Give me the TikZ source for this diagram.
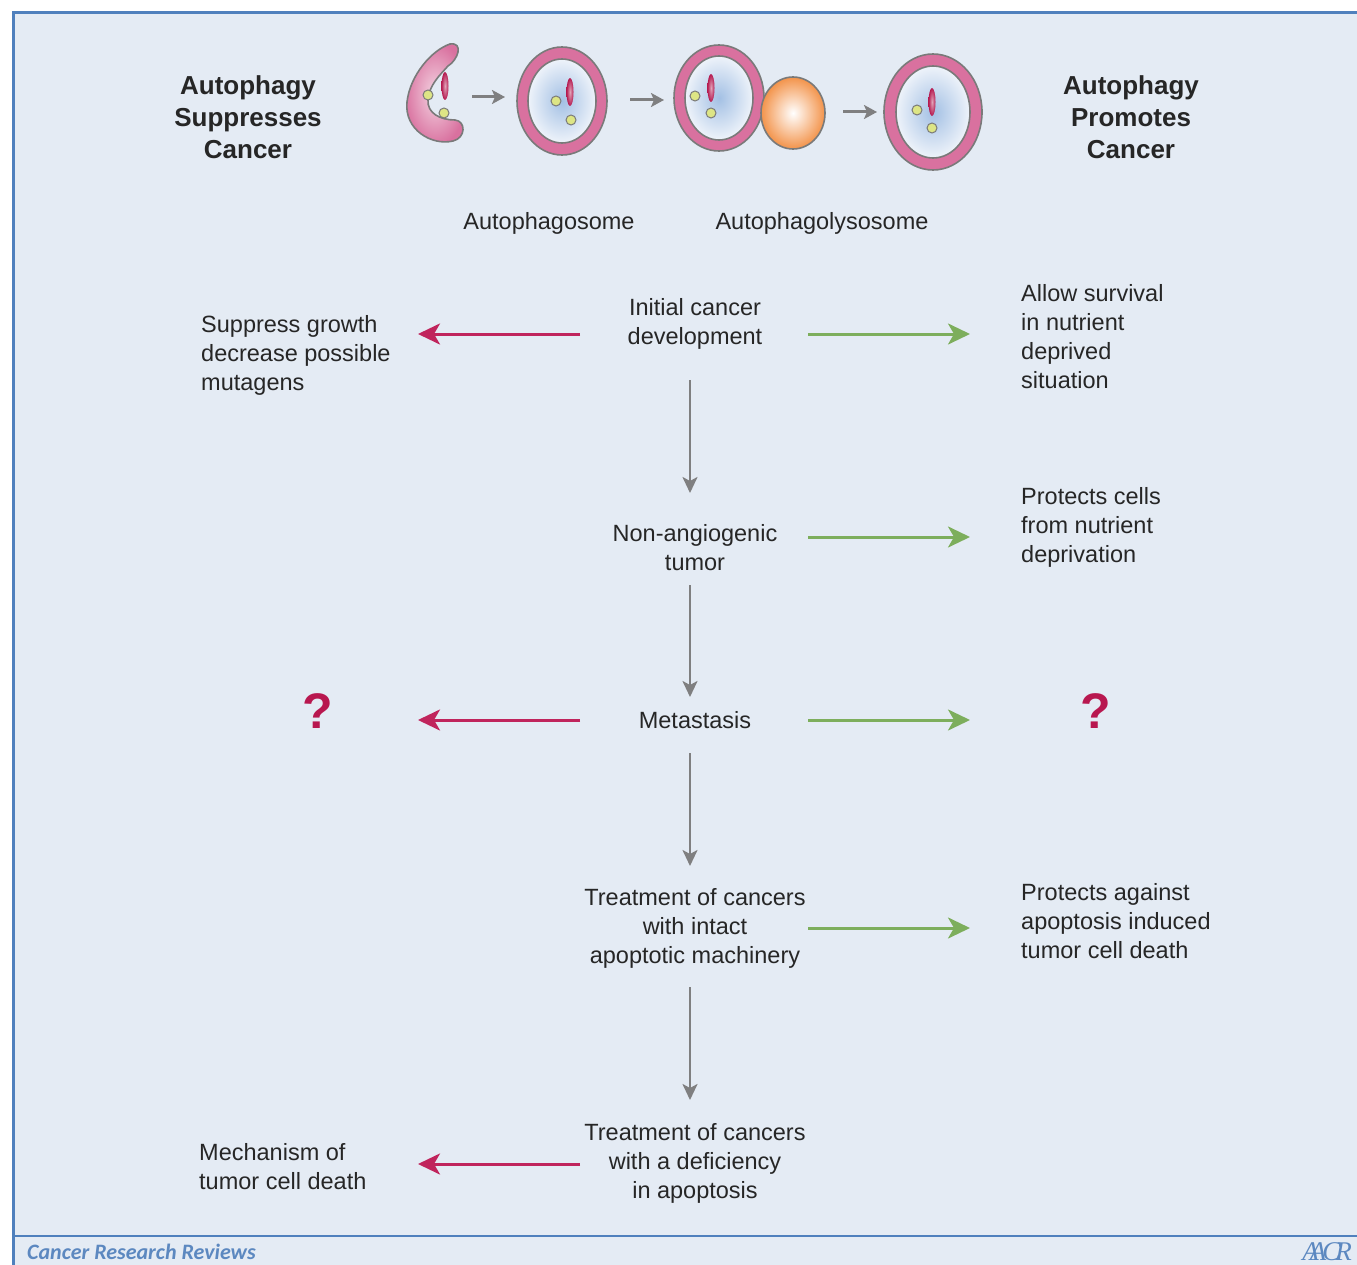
\documentclass[tikz,border=0pt]{standalone}
\usepackage{fontspec}
\setmainfont{Liberation Sans}
\newfontfamily\footfont{Carlito}
\newfontfamily\logofont{Liberation Serif}
\usetikzlibrary{arrows.meta}
\definecolor{bg}{HTML}{E4EBF4}
\definecolor{framec}{HTML}{4F80BD}
\definecolor{txt}{HTML}{262626}
\definecolor{redarr}{HTML}{C0245C}
\definecolor{greenarr}{HTML}{7DAE5C}
\definecolor{grayarr}{HTML}{7F7F80}
\definecolor{qcol}{HTML}{B8174F}
\definecolor{ringpink}{HTML}{D9719F}
\definecolor{outl}{HTML}{7A7A7A}
\definecolor{innerblue}{HTML}{A3C0E4}
\definecolor{innerwhite}{HTML}{EEF3FA}
\definecolor{orangeb}{HTML}{F3934A}
\definecolor{mito}{HTML}{B51A50}
\definecolor{dotc}{HTML}{DDE585}
\definecolor{footblue}{HTML}{5C88C0}
\begin{document}
\begin{tikzpicture}[x=1pt,y=-1pt,
  body/.style={font=\fontsize{23.5}{29}\selectfont, text=txt, inner sep=0pt},
  headtxt/.style={font=\fontsize{26}{32}\selectfont\bfseries, text=txt, inner sep=0pt, align=center},
  redline/.style={draw=redarr, line width=3pt, -{Stealth[length=22pt,width=21pt,inset=6pt]}},
  greenline/.style={draw=greenarr, line width=3pt, -{Stealth[length=22pt,width=21pt,inset=6pt]}},
  grayline/.style={draw=grayarr, line width=2.5pt, -{Stealth[length=16pt,width=15pt,inset=4pt]}},
  smallgray/.style={draw=grayarr, line width=3pt, -{Stealth[length=13pt,width=14pt,inset=3pt]}},
  ringout/.style={fill=ringpink, draw=outl, line width=1.6pt},
  ringin/.style={inner color=innerblue, outer color=innerwhite, draw=outl, line width=1.6pt},
  mitoc/.style={inner color=white!60!mito, outer color=mito},
  dotst/.style={fill=dotc, draw=outl, line width=1pt},
  qmark/.style={font=\fontsize{50}{50}\selectfont\bfseries, text=qcol, inner sep=0pt}
]
\useasboundingbox (0,0) rectangle (1357,1265);
\fill[white] (0,0) rectangle (1357,1265);
\fill[bg] (13,13) rectangle (1357,1265);
\draw[framec, line width=3pt] (13,1265) -- (13,13) -- (1357,13);
\draw[framec, line width=2pt] (13,1236) -- (1357,1236);

% headings
\node[headtxt] (supH) at (248,117) {Autophagy\\Suppresses\\Cancer};
\node[headtxt] (proH) at (1131,117) {Autophagy\\Promotes\\Cancer};

% phagophore (crescent)
\path[draw=outl, line width=1.6pt, inner color=ringpink!30!white, outer color=ringpink]
  (450,44) .. controls (432,50) and (410,75) .. (407,102)
  .. controls (404,130) and (432,146) .. (453,141)
  .. controls (466,138) and (466,121) .. (455,120)
  .. controls (440,120) and (427,113) .. (428,100)
  .. controls (429,85) and (440,75) .. (448,66)
  .. controls (458,60) and (464,42) .. (450,44) -- cycle;
\shade[mitoc] (445,86) ellipse [x radius=3.5pt, y radius=14pt];
\draw[dotst] (428,95) circle [radius=5pt];
\draw[dotst] (444,113) circle [radius=5pt];

% cell 1
\path[ringout] (562,101) ellipse [x radius=45pt, y radius=54pt];
\path[ringin] (562,101) ellipse [x radius=34pt, y radius=42pt];
\shade[mitoc] (570,92) ellipse [x radius=3.5pt, y radius=14pt];
\draw[dotst] (556,101) circle [radius=5pt];
\draw[dotst] (571,120) circle [radius=5pt];

% cell 2 + lysosome
\path[ringout] (719,98) ellipse [x radius=45pt, y radius=53pt];
\path[ringin] (719,98) ellipse [x radius=34pt, y radius=42pt];
\shade[mitoc] (711,88) ellipse [x radius=3.5pt, y radius=14pt];
\draw[dotst] (695,96) circle [radius=5pt];
\draw[dotst] (711,113) circle [radius=5pt];
\path[inner color=white, outer color=orangeb, draw=outl, line width=1.6pt] (793,113) ellipse [x radius=32pt, y radius=36pt];

% cell 3
\path[ringout] (933,112) ellipse [x radius=49pt, y radius=58pt];
\path[ringin] (933,112) ellipse [x radius=37pt, y radius=46pt];
\shade[mitoc] (932,102) ellipse [x radius=3.5pt, y radius=14pt];
\draw[dotst] (917,110) circle [radius=5pt];
\draw[dotst] (932,128) circle [radius=5pt];

% small process arrows
\coordinate (pa1s) at (472,97);  \coordinate (pa1e) at (505,97);
\coordinate (pa2s) at (630,100); \coordinate (pa2e) at (664,100);
\coordinate (pa3s) at (843,112); \coordinate (pa3e) at (877,112);
\draw[smallgray] (pa1s) -- (pa1e);
\draw[smallgray] (pa2s) -- (pa2e);
\draw[smallgray] (pa3s) -- (pa3e);

\node[body] (lblAP) at (549,223) {Autophagosome};
\node[body] (lblAL) at (822,223) {Autophagolysosome};

% flow texts
\node[body, align=center] (init) at (695,324) {Initial cancer\\development};
\node[body, align=left, anchor=west] (supp) at (201,355) {Suppress growth\\decrease possible\\mutagens};
\node[body, align=left, anchor=west] (allow) at (1021,337) {Allow survival\\in nutrient\\deprived\\situation};
\node[body, align=center] (nonang) at (695,548) {Non-angiogenic\\tumor};
\node[body, align=left, anchor=west] (protc) at (1021,527) {Protects cells\\from nutrient\\deprivation};
\node[body, align=center] (meta) at (695,720) {Metastasis};
\node[qmark] (q1) at (318,711) {?};
\node[qmark] (q2) at (1096,711) {?};
\node[body, align=center] (treat1) at (695,928) {Treatment of cancers\\with intact\\apoptotic machinery};
\node[body, align=left, anchor=west] (protag) at (1021,921) {Protects against\\apoptosis induced\\tumor cell death};
\node[body, align=center] (treat2) at (695,1163) {Treatment of cancers\\with a deficiency\\in apoptosis};
\node[body, align=left, anchor=west] (mech) at (199,1167) {Mechanism of\\tumor cell death};

% arrow endpoints
\coordinate (r1s) at (580,334);  \coordinate (r1e) at (418,334);
\coordinate (g1s) at (808,334);  \coordinate (g1e) at (970,334);
\coordinate (d1s) at (690,380);  \coordinate (d1e) at (690,493);
\coordinate (g2s) at (808,537);  \coordinate (g2e) at (970,537);
\coordinate (d2s) at (690,585);  \coordinate (d2e) at (690,697);
\coordinate (r3s) at (580,720);  \coordinate (r3e) at (418,720);
\coordinate (g3s) at (808,720);  \coordinate (g3e) at (970,720);
\coordinate (d3s) at (690,753);  \coordinate (d3e) at (690,866);
\coordinate (g4s) at (808,928);  \coordinate (g4e) at (970,928);
\coordinate (d4s) at (690,987);  \coordinate (d4e) at (690,1100);
\coordinate (r5s) at (580,1164); \coordinate (r5e) at (418,1164);

\draw[redline] (r1s) -- (r1e);
\draw[greenline] (g1s) -- (g1e);
\draw[grayline] (d1s) -- (d1e);
\draw[greenline] (g2s) -- (g2e);
\draw[grayline] (d2s) -- (d2e);
\draw[redline] (r3s) -- (r3e);
\draw[greenline] (g3s) -- (g3e);
\draw[grayline] (d3s) -- (d3e);
\draw[greenline] (g4s) -- (g4e);
\draw[grayline] (d4s) -- (d4e);
\draw[redline] (r5s) -- (r5e);

% footer
\node[anchor=west, inner sep=0pt, text=footblue, font=\footfont\fontsize{22}{22}\selectfont\bfseries\itshape] (journal) at (27,1252) {Cancer Research Reviews};
\node[anchor=east, inner sep=0pt, text=footblue, font=\logofont\fontsize{27}{27}\selectfont\itshape] (logo) at (1352,1252) {A\kern-9pt A\kern-4pt C\kern-5pt R};
\end{tikzpicture}
\end{document}
